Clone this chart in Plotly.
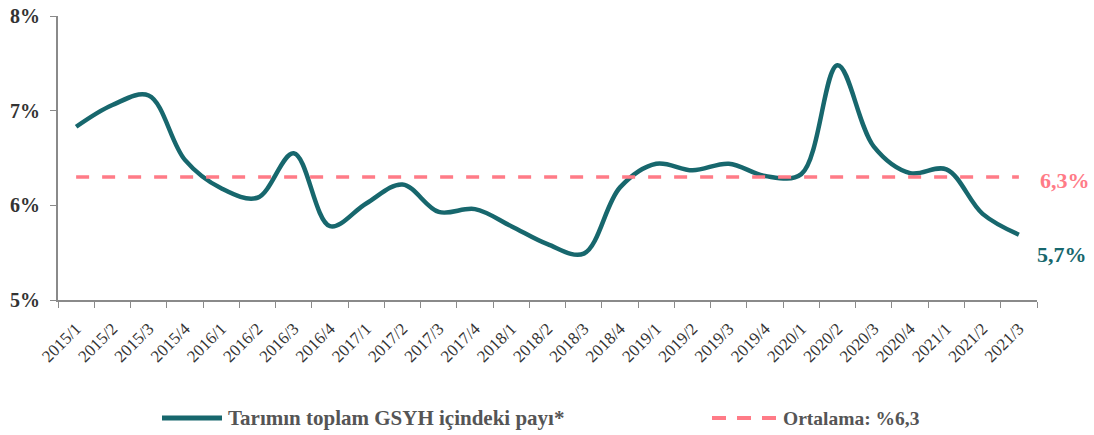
import plotly.graph_objects as go

categories = ["2015/1","2015/2","2015/3","2015/4","2016/1","2016/2","2016/3","2016/4",
              "2017/1","2017/2","2017/3","2017/4","2018/1","2018/2","2018/3","2018/4",
              "2019/1","2019/2","2019/3","2019/4","2020/1","2020/2","2020/3","2020/4",
              "2021/1","2021/2","2021/3"]
share = [6.83, 7.06, 7.16, 6.48, 6.18, 6.08, 6.55, 5.78,
         6.02, 6.22, 5.93, 5.96, 5.78, 5.59, 5.49, 6.19,
         6.44, 6.37, 6.44, 6.31, 6.33, 7.48, 6.62, 6.34,
         6.38, 5.91, 5.69]
average = 6.3
series_name = "Tarımın toplam GSYH içindeki payı*"
avg_name = "Ortalama: %6,3"
avg_label = "6,3%"
last_label = "5,7%"

TEAL = "#17676d"
PINK = "#ff7b87"
FONT = "Liberation Serif"

FIG_W, FIG_H = 1094, 435
PL, PR, PT, PB = 58, 1037, 16, 300   # plot area in page pixels

fig = go.Figure()
fig.add_trace(go.Scatter(
    x=categories, y=share, mode="lines", name=series_name,
    line=dict(color=TEAL, width=4.5, shape="spline", smoothing=1.0),
    showlegend=False,
))
fig.add_trace(go.Scatter(
    x=categories, y=[average] * len(categories), mode="lines", name=avg_name,
    line=dict(color=PINK, width=3.5, dash="13px,13px"),
    showlegend=False,
))

fig.add_annotation(x=categories[-1], y=average, text=f"<b>{avg_label}</b>",
                   showarrow=False, xanchor="left", xshift=19, yshift=-4,
                   font=dict(family=FONT, size=22, color=PINK))
fig.add_annotation(x=categories[-1], y=share[-1], text=f"<b>{last_label}</b>",
                   showarrow=False, xanchor="left", xshift=16, yshift=-20,
                   font=dict(family=FONT, size=22, color=TEAL))

# legend drawn manually (paper coordinates)
def px(xp): return (xp - PL) / (PR - PL)
def py(yp): return (PB - yp) / (PB - PT)

leg_y = py(418)
fig.add_shape(type="line", xref="paper", yref="paper", x0=px(162), x1=px(222), y0=leg_y, y1=leg_y,
              line=dict(color=TEAL, width=5))
fig.add_annotation(xref="paper", yref="paper", x=px(226), y=leg_y, text=f"<b>{series_name}</b>",
                   showarrow=False, xanchor="left", yanchor="middle",
                   font=dict(family=FONT, size=21, color="#555"))
fig.add_shape(type="line", xref="paper", yref="paper", x0=px(712), x1=px(776), y0=leg_y, y1=leg_y,
              line=dict(color=PINK, width=4, dash="14px,11px"))
fig.add_annotation(xref="paper", yref="paper", x=px(781), y=leg_y, text=f"<b>{avg_name}</b>",
                   showarrow=False, xanchor="left", yanchor="middle",
                   font=dict(family=FONT, size=19.5, color="#555"))

fig.update_layout(
    width=FIG_W, height=FIG_H,
    margin=dict(l=PL, r=FIG_W - PR, t=PT, b=FIG_H - PB),
    paper_bgcolor="white", plot_bgcolor="white",
    font=dict(family=FONT, color="#333"),
    showlegend=False,
)
fig.update_xaxes(
    type="category", range=[-0.5, len(categories) - 0.5], automargin=False,
    showline=True, linecolor="#8a8a8a", linewidth=2,
    ticks="outside", tickson="boundaries", ticklen=6, tickcolor="#8a8a8a",
    tickangle=-45, tickfont=dict(family=FONT, size=17, color="#333"),
    ticklabelstandoff=10, ticklabeloverflow="allow",
    showgrid=False, zeroline=False,
)
fig.update_yaxes(
    range=[5, 8], tickvals=[5, 6, 7, 8], ticktext=["5%", "6%", "7%", "8%"], automargin=False,
    showline=True, linecolor="#8a8a8a", linewidth=2,
    ticks="outside", ticklen=6, tickcolor="#8a8a8a",
    tickfont=dict(family=FONT, size=20, color="#333", weight="bold"),
    ticklabelstandoff=6, ticklabeloverflow="allow",
    showgrid=False, zeroline=False,
)

fig.write_html("out.html", config={"displayModeBar": False},
               post_script="document.body.style.margin='0';document.body.style.overflow='hidden';")
